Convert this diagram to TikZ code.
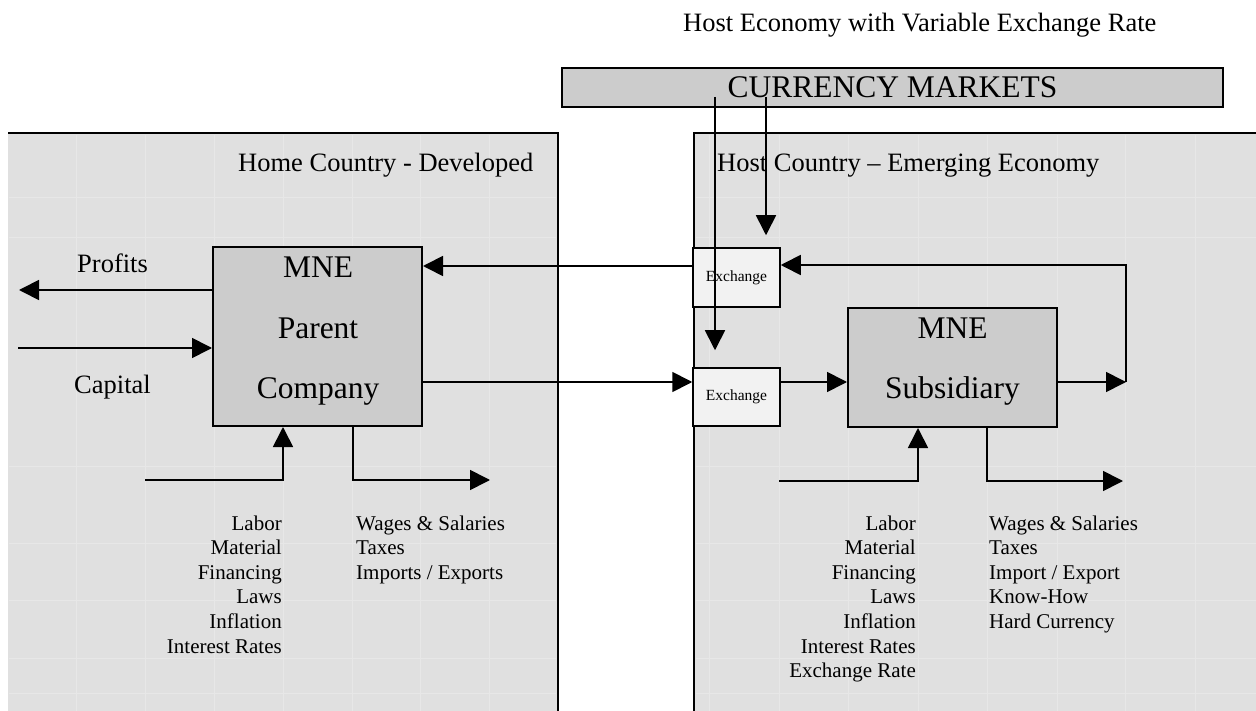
\documentclass[tikz,border=0pt]{standalone}
\usepackage{fontspec}
\setmainfont{Liberation Serif}
\usetikzlibrary{arrows.meta}
\definecolor{panelgray}{RGB}{224,224,224}
\definecolor{boxgray}{RGB}{204,204,204}
\definecolor{exgray}{RGB}{242,242,242}
\definecolor{gridgray}{RGB}{231,231,231}
\begin{document}
\begin{tikzpicture}[x=1pt,y=-1pt,
  big/.style={font=\fontsize{31.5}{36}\selectfont},
  mid/.style={font=\fontsize{26.5}{30}\selectfont},
  small/.style={font=\fontsize{21}{24}\selectfont},
  tiny/.style={font=\fontsize{15.5}{18}\selectfont},
  panel/.style={fill=panelgray},
  border/.style={line width=2.5pt},
  mainbox/.style={draw, line width=2pt, fill=boxgray, inner sep=0pt},
  exbox/.style={draw, line width=1.5pt, fill=exgray, inner sep=0pt, tiny},
  arr/.style={line width=1.7pt, -{Triangle[length=20pt,width=20pt]}},
  gridln/.style={gridgray, line width=1pt}]
\useasboundingbox (0,0) rectangle (1256,711);
\fill[white] (0,0) rectangle (1256,711);

% panels
\fill[panel] (8,133) rectangle (558,711);
\fill[panel] (694,133) rectangle (1256,711);
\foreach \x in {76.8,145.6,214.4,283.2,352,420.8,489.6}
  \draw[gridln] (\x,135) -- (\x,711);
\foreach \x in {709,779,848,918,987,1057,1125,1195}
  \draw[gridln] (\x,135) -- (\x,711);
\foreach \y in {198,238,466,543,600,658,693} {
  \draw[gridln] (9,\y) -- (556,\y);
  \draw[gridln] (696,\y) -- (1256,\y);
}
\draw[border] (8,133) -- (558,133) -- (558,711);
\draw[border] (694,711) -- (694,133) -- (1256,133);

% title and labels
\node[mid, anchor=base west, inner sep=0pt] (title) at (683,32) {Host Economy with Variable Exchange Rate};
\node[mainbox, minimum width=661pt, minimum height=39pt, line width=2.5pt] (cur) at (892.5,87.5) {};
\node[big, anchor=base, inner sep=0pt] (curtxt) at (892.5,98) {CURRENCY MARKETS};
\node[mid, anchor=base west, inner sep=0pt] (home) at (238,172) {Home Country - Developed};
\node[mid, anchor=base west, inner sep=0pt] (host) at (717,172) {Host Country – Emerging Economy};
\node[mid, anchor=base west, inner sep=0pt] (profits) at (77,273) {Profits};
\node[mid, anchor=base west, inner sep=0pt] (capital) at (74,393) {Capital};

% boxes
\node[mainbox, minimum width=209pt, minimum height=179pt] (parent) at (317.5,336.5) {};
\node[big, anchor=base, inner sep=0pt] (p1) at (318,278) {MNE};
\node[big, anchor=base, inner sep=0pt] (p2) at (318,339) {Parent};
\node[big, anchor=base, inner sep=0pt] (p3) at (318,398) {Company};
\node[mainbox, minimum width=209pt, minimum height=119pt] (sub) at (952.5,367.5) {};
\node[big, anchor=base, inner sep=0pt] (s1) at (952.5,339) {MNE};
\node[big, anchor=base, inner sep=0pt] (s2) at (952.5,398) {Subsidiary};
\node[exbox, minimum width=87pt, minimum height=59pt] (exA) at (736.5,277.5) {Exchange};
\node[exbox, minimum width=87pt, minimum height=58pt] (exB) at (736.5,397) {Exchange};

% helper coordinates
\coordinate (hP) at (0,290);
\coordinate (hC) at (0,348);
\coordinate (hT) at (0,266);
\coordinate (hB) at (0,382);
\coordinate (profEnd) at (19,290);
\coordinate (capStart) at (18,348);
\coordinate (loopB) at (1126,382);
\coordinate (loopT) at (1126,265);
\coordinate (c1) at (715,97);
\coordinate (c2) at (766,97);

% connectors
\draw[arr] (parent.west |- hP) -- (profEnd);
\draw[arr] (capStart) -- (parent.west |- hC);
\draw[arr] (exA.west |- hT) -- (parent.east |- hT);
\draw[arr] (parent.east |- hB) -- (exB.west |- hB);
\draw[arr] (exB.east |- hB) -- (sub.west |- hB);
\draw[arr] (sub.east |- hB) -- (loopB);
\draw[arr] (loopB) -- (loopT) -- (exA.east |- loopT);
\draw[arr, shorten >=17pt] (c1) -- (c1 |- exB.north);
\draw[arr, shorten >=12pt] (c2) -- (c2 |- exA.north);

% bottom arrows
\coordinate (inL) at (145,480);
\coordinate (xL1) at (283,0);
\coordinate (xL2) at (353,0);
\coordinate (outL) at (490,480);
\draw[arr] (inL) -| (xL1 |- parent.south);
\draw[arr] (xL2 |- parent.south) |- (outL);
\coordinate (inR) at (779,481);
\coordinate (xR1) at (918,0);
\coordinate (xR2) at (987,0);
\coordinate (outR) at (1123,481);
\draw[arr] (inR) -| (xR1 |- sub.south);
\draw[arr] (xR2 |- sub.south) |- (outR);

% lists
\foreach \t [count=\i] in {Labor,Material,Financing,Laws,Inflation,Interest Rates}
  \node[small, anchor=base east, inner sep=0pt] (pl\i) at (282,{530+24.6*(\i-1)}) {\t};
\foreach \t [count=\i] in {Wages \& Salaries,Taxes,Imports / Exports}
  \node[small, anchor=base west, inner sep=0pt] (pr\i) at (356,{530+24.6*(\i-1)}) {\t};
\foreach \t [count=\i] in {Labor,Material,Financing,Laws,Inflation,Interest Rates,Exchange Rate}
  \node[small, anchor=base east, inner sep=0pt] (sl\i) at (916,{530+24.6*(\i-1)}) {\t};
\foreach \t [count=\i] in {Wages \& Salaries,Taxes,Import / Export,Know-How,Hard Currency}
  \node[small, anchor=base west, inner sep=0pt] (sr\i) at (989,{530+24.6*(\i-1)}) {\t};
\end{tikzpicture}
\end{document}
